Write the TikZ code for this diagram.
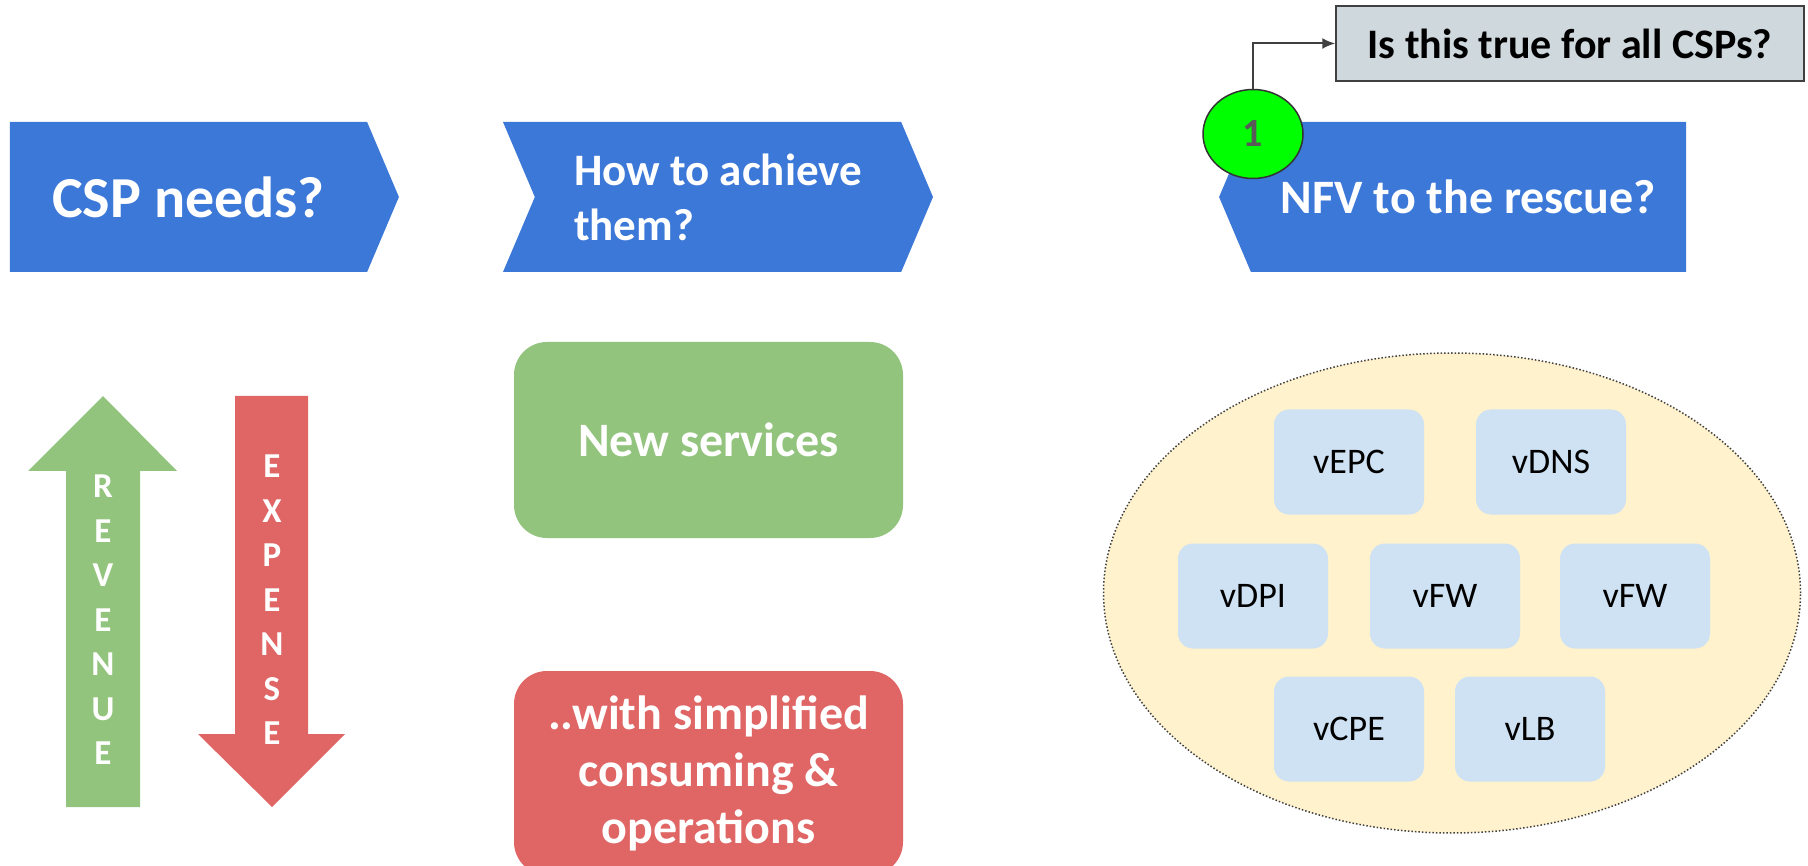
\documentclass[tikz,border=0pt]{standalone}
\usepackage{fontspec}
\setmainfont{Carlito}
\usetikzlibrary{shapes,arrows.meta,positioning}

\definecolor{chevblue}{HTML}{3C78D8}
\definecolor{upgreen}{HTML}{93C47D}
\definecolor{downred}{HTML}{E06666}
\definecolor{askgray}{HTML}{CFD8DC}
\definecolor{poolyellow}{HTML}{FFF2CC}
\definecolor{vnfblue}{HTML}{CFE2F3}
\definecolor{lineclr}{HTML}{404040}

\begin{document}
\begin{tikzpicture}[x=1pt,y=-1pt]
            \tikzstyle{stage}=[signal,fill=chevblue,text=white,minimum height=150pt,signal pointer angle=134,inner sep=0pt,font=\fontsize{45}{55}\selectfont\bfseries]
            \tikzstyle{goal}=[rectangle,rounded corners=33pt,minimum width=389pt,text=white,align=center,font=\fontsize{48}{57}\selectfont\bfseries]
            \tikzstyle{vnf}=[rectangle,rounded corners=15pt,fill=vnfblue,minimum width=150pt,minimum height=105pt,font=\fontsize{36}{43}\selectfont]
            \tikzstyle{spell}=[align=center,text=white,font=\fontsize{35}{44.5}\selectfont\bfseries]

            \useasboundingbox (0,0) rectangle (1808,866);

            % the three steps
            \node[stage,signal to=east,minimum width=389pt,font=\fontsize{58}{60}\selectfont\bfseries] (needs) at (188.5,197) {CSP needs?};
            \node[stage,signal from=west,signal to=east,minimum width=430pt,align=left] (achieve) at (718,197) {How to achieve\\them?};
            \node[stage,signal to=west,minimum width=467pt,font=\fontsize{48}{55}\selectfont\bfseries] (rescue) at (1468.5,197) {NFV to the rescue?};

            % revenue up, expense down
            \fill[upgreen] (66,807) -- (66,471) -- (28,471) -- (103,396) -- (177,471) -- (140,471) -- (140,807) -- cycle;
            \fill[downred] (235,396) -- (308,396) -- (308,734) -- (345,734) -- (272,807) -- (198,734) -- (235,734) -- cycle;
            \node[spell] (revenue) at (103,620) {R\\E\\V\\E\\N\\U\\E};
            \node[spell] (expense) at (272,600) {E\\X\\P\\E\\N\\S\\E};

            \node[goal,fill=upgreen,minimum height=196pt] (newsvc) at (708.5,440) {New services};
            \node[goal,fill=downred,minimum height=204pt] (simple) at (708.5,773) {..with simplified\\consuming \&\\operations};

            % pool of virtual functions
            \node[ellipse,draw=lineclr,dotted,line width=1.5pt,fill=poolyellow,minimum width=697pt,minimum height=480pt] (pool) at (1452,593) {};
            \node[vnf] (vepc) at (1349,462) {vEPC};
            \node[vnf] (vdns) at (1551,462) {vDNS};
            \node[vnf] (vdpi) at (1253,596) {vDPI};
            \node[vnf] (vfwa) at (1445,596) {vFW};
            \node[vnf] (vfwb) at (1635,596) {vFW};
            \node[vnf] (vcpe) at (1349,729) {vCPE};
            \node[vnf] (vlb)  at (1530,729) {vLB};

            % question
            \node[rectangle,draw=lineclr,line width=1.5pt,fill=askgray,minimum width=468pt,minimum height=75pt,font=\fontsize{42}{50}\selectfont\bfseries] (allcsp) at (1570,43.5) {Is this true for all CSPs?};
            \node[ellipse,draw=lineclr!80!black,line width=1.5pt,fill=green,minimum width=100pt,minimum height=89pt,text=black!65,font=\fontsize{40}{48}\selectfont\bfseries] (one) at (1253,134) {1};

            \draw[-{Latex[length=13pt,width=11pt]},lineclr,line width=2pt] (one.north) |- (allcsp.west);
\end{tikzpicture}
\end{document}
